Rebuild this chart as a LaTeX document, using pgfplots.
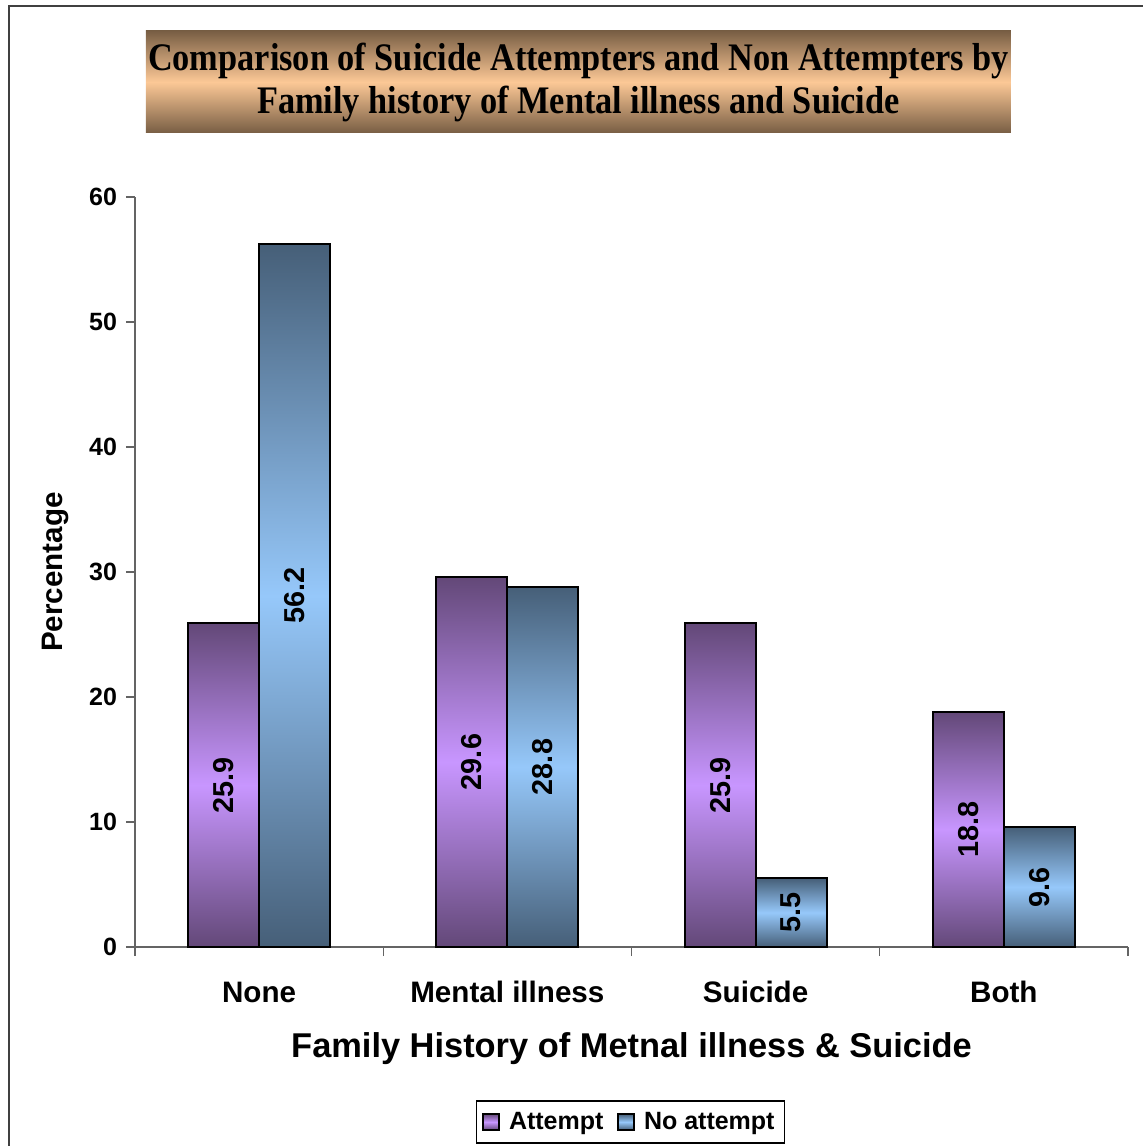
\documentclass[border=0pt]{standalone}
\usepackage{fontspec}
\setmainfont{Liberation Sans}
\newfontfamily\titlefont{Liberation Serif}[FakeStretch=0.88]
\usepackage{pgfplots}
\pgfplotsset{compat=1.18}

\definecolor{attdark}{RGB}{99,72,120}
\definecolor{attlight}{RGB}{200,150,255}
\definecolor{nadark}{RGB}{70,95,120}
\definecolor{nalight}{RGB}{150,200,250}
\definecolor{titledark}{RGB}{120,94,68}
\definecolor{titlelight}{RGB}{252,200,150}
\definecolor{axisgray}{RGB}{100,100,100}

% one \addplot per bar so that every bar gets its own gradient
\pgfplotsset{
    att/.style={draw=black, line width=1pt, bar shift=-0.143,
        top color=attdark, bottom color=attdark, middle color=attlight,
        legend image code/.code={\draw[black, line width=0.8pt, fill=attlight!80!attdark] (0pt,-4pt) rectangle (8pt,4pt);}},
    noatt/.style={draw=black, line width=1pt, bar shift=0.143,
        top color=nadark, bottom color=nadark, middle color=nalight,
        legend image code/.code={\draw[black, line width=0.8pt, fill=nalight!85!nadark] (0pt,-4pt) rectangle (8pt,4pt);}},
}

\begin{document}
\begin{tikzpicture}
% page is 1143 x 1146 px at 0.5pt per px, origin at the axis corner
\path[use as bounding box] (-67.5pt,-99.5pt) rectangle (504pt,473.5pt);
\draw[line width=1pt, black!75] (-63pt,-99.5pt) -- (-63pt,470.5pt) -- (504pt,470.5pt);
\begin{axis}[
    at={(0,0)}, anchor=south west,
    scale only axis,
    width=496.5pt, height=375pt,
    ybar=0pt, bar width=0.286,
    xmin=-0.5, xmax=3.5, ymin=0, ymax=60,
    axis x line*=bottom, axis y line*=left,
    axis line style={axisgray, line width=0.7pt},
    tick align=outside, major tick length=4.5pt,
    tick style={axisgray, line width=0.7pt},
    xtick={-0.5,0.5,1.5,2.5,3.5}, xticklabels={},
    extra x ticks={0,1,2,3},
    extra x tick labels={None,Mental illness,Suicide,Both},
    extra x tick style={major tick length=0pt},
    xticklabel style={font=\fontsize{14.8}{17}\selectfont\bfseries, anchor=center, yshift=-22.5pt},
    ytick={0,10,...,60},
    yticklabel style={font=\fontsize{12.5}{14}\selectfont\bfseries, xshift=-1pt},
    /pgf/number format/assume math mode=true,
    xlabel={Family History of Metnal illness \& Suicide},
    xlabel style={at={(axis description cs:0.5,0)}, anchor=center, yshift=-51pt,
        font=\fontsize{17.2}{20}\selectfont\bfseries},
    ylabel={Percentage},
    ylabel style={at={(axis description cs:-0.0796,0.5)}, anchor=center,
        font=\fontsize{14.8}{17}\selectfont\bfseries},
    title={Comparison of Suicide Attempters and Non Attempters by\\Family history of Mental illness and Suicide},
    title style={at={(axis description cs:0.4466,1)}, anchor=center, yshift=51.5pt,
        top color=titledark, bottom color=titledark, middle color=titlelight,
        minimum width=432.5pt, minimum height=51pt, inner sep=0pt, align=center,
        font=\titlefont\bfseries\fontsize{19.5}{21.5}\selectfont},
    visualization depends on=y \as \rawy,
    nodes near coords,
    every node near coord/.append style={shift={(axis direction cs:0,-\rawy/2)},
        rotate=90, anchor=center, black,
        font=\fontsize{14.4}{16}\selectfont\bfseries},
    legend columns=2,
    legend style={at={(axis description cs:0.499,0)}, anchor=center, yshift=-87.5pt,
        draw=black, line width=0.7pt, inner xsep=3pt, inner ysep=3.5pt,
        font=\fontsize{12.5}{14}\selectfont\bfseries,
        /tikz/every odd column/.append style={column sep=2.5pt},
        /tikz/every even column/.append style={column sep=5pt}},
]
% Attempt
\addplot[att] coordinates {(0,25.9)};
\addlegendentry{Attempt}
\addplot[att, forget plot] coordinates {(1,29.6)};
\addplot[att, forget plot] coordinates {(2,25.9)};
\addplot[att, forget plot] coordinates {(3,18.8)};
% No attempt
\addplot[noatt] coordinates {(0,56.2)};
\addlegendentry{No attempt}
\addplot[noatt, forget plot] coordinates {(1,28.8)};
\addplot[noatt, forget plot] coordinates {(2,5.5)};
\addplot[noatt, forget plot] coordinates {(3,9.6)};
\end{axis}
\end{tikzpicture}
\end{document}
